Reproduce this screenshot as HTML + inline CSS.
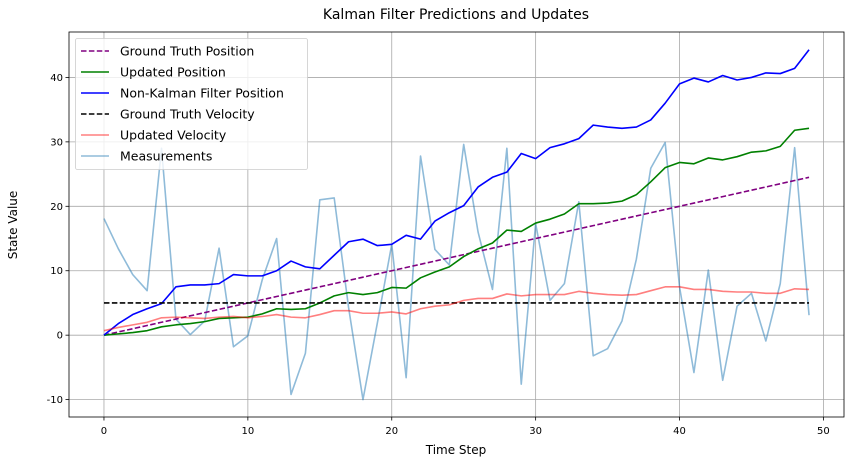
<!DOCTYPE html>
<html><head><meta charset="utf-8"><style>
body{margin:0;background:#fff;font-family:"Liberation Sans","DejaVu Sans",sans-serif}
svg text{font-family:"DejaVu Sans","Liberation Sans",sans-serif}
</style></head><body>
<svg id="chart" width="853" height="470" xmlns="http://www.w3.org/2000/svg">
<rect width="853" height="470" fill="#fff"/>
<text x="456" y="19" font-size="14" text-anchor="middle">Kalman Filter Predictions and Updates</text>
<g id="grid"></g><g id="series"></g><g id="axes"></g>
<text x="456" y="454" font-size="12" text-anchor="middle">Time Step</text>
<text transform="translate(17,225) rotate(-90)" font-size="12" text-anchor="middle">State Value</text>
<g id="legend"></g>
</svg>
<script>
const xTicks=[0,10,20,30,40,50];
const yTicks=[-10,0,10,20,30,40];
const truePos=[0,0.5,1,1.5,2,2.5,3,3.5,4,4.5,5,5.5,6,6.5,7,7.5,8,8.5,9,9.5,10,10.5,11,11.5,12,12.5,13,13.5,14,14.5,15,15.5,16,16.5,17,17.5,18,18.5,19,19.5,20,20.5,21,21.5,22,22.5,23,23.5,24,24.5];
const updPos=[0,0.2,0.4,0.7,1.3,1.6,1.8,2.1,2.6,2.7,2.8,3.3,4.1,4.0,4.1,5.0,6.1,6.6,6.3,6.6,7.4,7.3,8.9,9.8,10.6,12.2,13.4,14.3,16.3,16.1,17.4,18.0,18.8,20.4,20.4,20.5,20.8,21.8,23.8,26.0,26.8,26.6,27.5,27.2,27.7,28.4,28.6,29.3,31.8,32.1];
const rawPos=[0,1.8,3.2,4.1,4.9,7.5,7.8,7.8,8.0,9.4,9.2,9.2,10.0,11.5,10.6,10.3,12.4,14.5,14.9,13.9,14.1,15.5,14.9,17.7,19.0,20.1,23.0,24.5,25.3,28.2,27.4,29.1,29.7,30.5,32.6,32.3,32.1,32.3,33.4,36.0,39.0,39.9,39.3,40.3,39.6,40.0,40.7,40.6,41.4,44.3];
const trueVel=[5,5,5,5,5,5,5,5,5,5,5,5,5,5,5,5,5,5,5,5,5,5,5,5,5,5,5,5,5,5,5,5,5,5,5,5,5,5,5,5,5,5,5,5,5,5,5,5,5,5];
const updVel=[0.7,1.2,1.6,2.0,2.7,2.8,2.7,2.6,2.8,2.9,2.7,2.9,3.2,2.8,2.7,3.2,3.8,3.8,3.4,3.4,3.6,3.3,4.1,4.5,4.7,5.4,5.7,5.7,6.4,6.1,6.3,6.3,6.3,6.8,6.5,6.3,6.2,6.3,6.9,7.5,7.5,7.1,7.1,6.8,6.7,6.7,6.5,6.5,7.2,7.1];
const meas=[18.1,13.4,9.4,6.9,29.0,2.5,0.1,2.2,13.5,-1.8,-0.1,8.6,15.0,-9.2,-2.8,21.0,21.3,4.3,-10.0,1.9,14.1,-6.6,27.8,13.3,10.9,29.6,16.0,7.1,29.0,-7.6,17.3,5.4,8.0,20.7,-3.2,-2.1,2.2,11.8,25.9,29.9,7.5,-5.8,10.1,-7.0,4.5,6.5,-0.9,8.0,29.1,3.1];
const L=69,R=844,T=32,B=417;
const xMin=-2.43,xMax=51.43,yMin=-12.7,yMax=47.05;
const sx=v=>L+(v-xMin)/(xMax-xMin)*(R-L);
const sy=v=>B-(v-yMin)/(yMax-yMin)*(B-T);
const NS="http://www.w3.org/2000/svg";
function mk(tag,attrs,parent){const e=document.createElementNS(NS,tag);for(const k in attrs)e.setAttribute(k,attrs[k]);parent.appendChild(e);return e;}
const grid=document.getElementById('grid'),axes=document.getElementById('axes'),ser=document.getElementById('series'),leg=document.getElementById('legend');
xTicks.forEach(t=>{const x=sx(t);
 const g=mk('line',{x1:x,x2:x,y1:T,y2:B,stroke:'#a8a8a8','stroke-width':0.8},grid);
 
 
 mk('line',{x1:x,x2:x,y1:B,y2:B+3.5,stroke:'#000','stroke-width':0.8},axes);
 const tx=mk('text',{x:x,y:B+17,'font-size':10,'text-anchor':'middle','font-family':'Liberation Sans'},axes);tx.textContent=t;
 
 });
yTicks.forEach(t=>{const y=sy(t);
 const g=mk('line',{x1:L,x2:R,y1:y,y2:y,stroke:'#a8a8a8','stroke-width':0.8},grid);
 
 
 mk('line',{x1:L-3.5,x2:L,y1:y,y2:y,stroke:'#000','stroke-width':0.8},axes);
 const tx=mk('text',{x:L-6,y:y+3.5,'font-size':10,'text-anchor':'end','font-family':'Liberation Sans'},axes);tx.textContent=t;
 
 });
const fr=mk('rect',{x:L,y:T,width:R-L,height:B-T,fill:'none',stroke:'#000','stroke-width':0.8},axes);


const specs=[
 {d:truePos,c:'purple',dash:'5.5,2.4',name:'Ground Truth Position',id:'ground-truth-position-line',op:1},
 {d:updPos,c:'green',dash:'',name:'Updated Position',id:'updated-position-line',op:1},
 {d:rawPos,c:'blue',dash:'',name:'Non-Kalman Filter Position',id:'non-kalman-position-line',op:1},
 {d:trueVel,c:'black',dash:'5.5,2.4',name:'Ground Truth Velocity',id:'ground-truth-velocity-line',op:1},
 {d:updVel,c:'#ff0000',dash:'',name:'Updated Velocity',id:'updated-velocity-line',op:0.5},
 {d:meas,c:'#1f77b4',dash:'',name:'Measurements',id:'measurements-line',op:0.5}];
const order=[5,0,1,2,3,4];
order.forEach(i=>{const s=specs[i];
 const p=mk('polyline',{points:s.d.map((v,k)=>sx(k)+','+sy(v)).join(' '),fill:'none',stroke:s.c,'stroke-width':1.6,'stroke-opacity':s.op,'stroke-dasharray':s.dash,'stroke-linejoin':'round'},ser);
 
 });
const lb=mk('rect',{x:75.5,y:38.5,width:232,height:131,rx:2,fill:'#fff','fill-opacity':0.8,stroke:'#ccc','stroke-width':0.8},leg);


specs.forEach((s,i)=>{const y=51+i*21;
 const g=mk('g',{},leg);
 
 
 mk('line',{x1:81,x2:109,y1:y,y2:y,stroke:s.c,'stroke-width':1.6,'stroke-opacity':s.op,'stroke-dasharray':s.dash},g);
 const t=mk('text',{x:120,y:y+4.5,'font-size':12.5},g);t.textContent=s.name;});
</script>
</body></html>
